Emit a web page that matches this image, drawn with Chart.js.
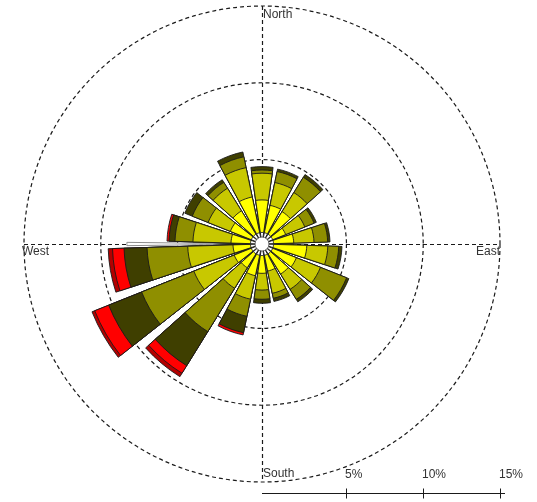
<!DOCTYPE html>
<html>
<head>
<meta charset="utf-8">
<script src="https://cdn.jsdelivr.net/npm/chart.js@4.4.1/dist/chart.umd.min.js"></script>
<style>
  html, body { margin: 0; padding: 0; background: #ffffff; }
  canvas { display: block; }
</style>
</head>
<body>
<canvas id="rose" width="537" height="502"></canvas>
<script>
// Direction sectors (degrees clockwise from north), 20 degrees each
const directions = [0, 20, 40, 60, 80, 100, 120, 140, 160, 180, 200, 220, 240, 260, 280, 300, 320, 340];

// Wind speed classes, innermost first
const speedBins = ['calm', '0 to 2', '2 to 4', '4 to 6', '6 to 8', '8 to 10', '10+'];
const binColours = ['#ffffff', '#ffff00', '#c8c800', '#8f8f00', '#3f3f00', '#ff0000', '#b40000'];

// Frequency (%) of each speed class in each direction sector
const freqCalm   = [0.25, 0.25, 0.25, 0.25, 0.25, 0.25, 0.25, 0.25, 0.25, 0.25, 0.25, 0.25, 0.25, 0.25, 0.25, 0.25, 0.25, 0.25];
const freq0to2   = [2.12, 1.82, 1.73, 0.91, 1.32, 2.17, 1.66, 1.55, 1.05, 1.16, 1.36, 1.07, 1.20, 1.14, 1.27, 1.47, 1.79, 2.38];
const freq2to4   = [1.74, 1.52, 1.46, 1.34, 1.32, 1.37, 1.69, 1.17, 1.48, 1.09, 1.56, 1.57, 2.83, 2.95, 2.48, 1.56, 1.73, 1.95];
const freq4to6   = [0.21, 0.73, 1.17, 0.65, 0.89, 0.71, 1.83, 0.77, 0.33, 0.60, 1.14, 3.32, 3.66, 2.65, 1.17, 1.11, 0.45, 0.72];
const freq6to8   = [0.22, 0.16, 0.21, 0.16, 0.15, 0.21, 0.16, 0.19, 0.21, 0.26, 1.09, 2.61, 2.31, 1.50, 0.39, 0.52, 0.20, 0.32];
const freq8to10  = [0, 0, 0, 0, 0, 0, 0, 0, 0, 0, 0.15, 0.58, 0.98, 0.75, 0.13, 0, 0, 0];
const freq10plus = [0, 0, 0, 0, 0, 0, 0, 0, 0, 0, 0, 0.26, 0.19, 0.28, 0, 0, 0, 0];

// Narrow westerly sliver (degrees, %)
const westSliverDir = 270;
const westSliverFreq = 8.3;

// Frequency rings and scale bar ticks (%)
const ringTicks = [5, 10, 15];
const scaleBarLabels = ['5%', '10%', '15%'];
const compassLabels = ['North', 'East', 'South', 'West'];

const binFreqs = [freqCalm, freq0to2, freq2to4, freq4to6, freq6to8, freq8to10, freq10plus];

const SECTOR = 20;          // angular size of a sector
const WEDGE = 16.5;         // drawn width of a wedge
const GAP = SECTOR - WEDGE; // white space between wedges
const AXIS_MIN = -0.5;      // leaves the small hole in the middle
const AXIS_MAX = 15;
const START = -WEDGE / 2;
const SLIVER = 1.4;

// stacked (cumulative) frequency of each speed class
const cumulative = binFreqs.map((_, b) =>
  directions.map((_, d) => binFreqs.slice(0, b + 1).reduce((s, arr) => s + arr[d], 0))
);

// every sector is a wedge followed by a gap
const labels = [];
directions.forEach(d => { labels.push(String(d)); labels.push(''); });

const datasets = speedBins.map((name, b) => {
  const data = [];
  directions.forEach((_, d) => { data.push(+cumulative[b][d].toFixed(3)); data.push(AXIS_MIN); });
  const empty = i => i % 2 === 1 || binFreqs[b][Math.floor(i / 2)] <= 0;
  return {
    label: name,
    data,
    angle: ctx => (ctx.dataIndex % 2 === 0 ? WEDGE : GAP),
    backgroundColor: ctx => (empty(ctx.dataIndex) ? 'rgba(0,0,0,0)' : binColours[b]),
    borderColor: '#1a1a1a',
    borderWidth: ctx => (empty(ctx.dataIndex) ? 0 : 0.9)
  };
});

// the narrow westerly sliver has its own angular layout
const sliverStart = westSliverDir - SLIVER / 2 - START;
datasets.push({
  label: 'W',
  data: [AXIS_MIN, westSliverFreq, AXIS_MIN],
  angle: ctx => [sliverStart, SLIVER, 360 - sliverStart - SLIVER][ctx.dataIndex],
  backgroundColor: ctx => (ctx.dataIndex === 1 ? '#ffffff' : 'rgba(0,0,0,0)'),
  borderColor: '#8c8c8c',
  borderWidth: ctx => (ctx.dataIndex === 1 ? 1 : 0)
});

const DASH = [4, 3];
const INK = '#1a1a1a';
const FONT = '12px "Liberation Sans", Arial, sans-serif';

const roseDecor = {
  id: 'roseDecor',
  beforeDatasetsDraw(chart) {
    const s = chart.scales.r;
    const ctx = chart.ctx;
    const cx = s.xCenter, cy = s.yCenter, R = s.drawingArea;
    ctx.save();
    ctx.strokeStyle = INK;
    ctx.lineWidth = 1.2;
    ctx.setLineDash(DASH);
    ctx.beginPath();
    ctx.moveTo(cx + 0.5, cy - R);
    ctx.lineTo(cx + 0.5, cy + R);
    ctx.moveTo(cx - R, cy + 0.5);
    ctx.lineTo(cx + R, cy + 0.5);
    ctx.stroke();
    ctx.restore();
  },
  afterDatasetsDraw(chart) {
    const s = chart.scales.r;
    const ctx = chart.ctx;
    const cx = s.xCenter, cy = s.yCenter, R = s.drawingArea;
    ctx.save();

    // hole in the middle
    ctx.beginPath();
    ctx.arc(cx, cy, 7, 0, Math.PI * 2);
    ctx.fillStyle = '#ffffff';
    ctx.fill();
    ctx.lineWidth = 0.8;
    ctx.strokeStyle = '#444';
    ctx.stroke();

    // compass labels
    ctx.fillStyle = '#333';
    ctx.font = FONT;
    ctx.textBaseline = 'top';
    ctx.textAlign = 'left';
    ctx.fillText(compassLabels[0], cx + 1, cy - R + 3);
    ctx.fillText(compassLabels[2], cx + 1, cy + R - 14);
    ctx.fillText(compassLabels[3], cx - R - 2, cy + 2);
    ctx.textAlign = 'right';
    ctx.fillText(compassLabels[1], cx + R, cy + 2);

    // frequency scale bar
    const barY = 493.5;
    const tickX = ringTicks.map(v => cx + s.getDistanceFromCenterForValue(v));
    ctx.strokeStyle = INK;
    ctx.lineWidth = 1;
    ctx.beginPath();
    ctx.moveTo(cx, barY);
    ctx.lineTo(tickX[tickX.length - 1] + 5, barY);
    tickX.forEach(x => {
      ctx.moveTo(Math.round(x) + 0.5, barY - 5);
      ctx.lineTo(Math.round(x) + 0.5, barY + 5);
    });
    ctx.stroke();
    ctx.textAlign = 'left';
    scaleBarLabels.forEach((t, i) => ctx.fillText(t, Math.round(tickX[i]) - 1, 469));
    ctx.restore();
  }
};

new Chart(document.getElementById('rose'), {
  type: 'polarArea',
  data: { labels, datasets },
  options: {
    responsive: false,
    animation: false,
    devicePixelRatio: 1,
    layout: { padding: { left: 24, right: 37, top: 6, bottom: 20 } },
    plugins: { legend: { display: false }, tooltip: { enabled: false } },
    scales: {
      r: {
        type: 'radialLinear',
        min: AXIS_MIN,
        max: AXIS_MAX,
        startAngle: START,
        ticks: { display: false },
        pointLabels: { display: false },
        angleLines: { display: false },
        grid: { circular: true, color: INK, lineWidth: 1.2 },
        border: { dash: DASH },
        afterBuildTicks: scale => { scale.ticks = ringTicks.map(v => ({ value: v })); }
      }
    }
  },
  plugins: [roseDecor]
});
</script>
</body>
</html>
